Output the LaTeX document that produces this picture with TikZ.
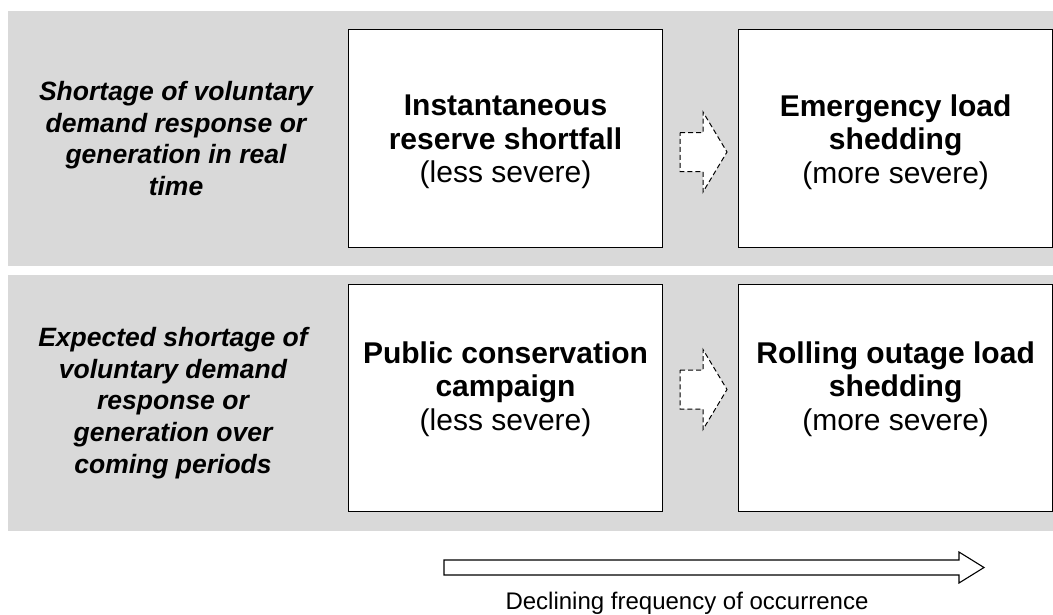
\documentclass[tikz,border=0pt]{standalone}
\usepackage{fontspec}
\setmainfont{Liberation Sans}
\usetikzlibrary{calc,positioning}
\definecolor{bandgray}{RGB}{217,217,217}

% block arrow: style, tail point, length, half shaft, half head, head length
\newcommand{\blockarrow}[6]{
  \draw[#1] #2 ++(0,-#4) -- ++(#3-#6,0) -- ++(0,#4-#5) -- ++(#6,#5)
    -- ++(-#6,#5) -- ++(0,#4-#5) -- ++(#6-#3,0) -- cycle;
}

\begin{document}
\begin{tikzpicture}[x=1pt,y=-1pt,
    band/.style={fill=bandgray},
    optbox/.style={draw=black,line width=1.1pt,fill=white,inner sep=0pt,
      minimum width=314pt},
    opttext/.style={align=center,font=\fontsize{30}{33.5}\selectfont},
    cause/.style={align=center,font=\fontsize{26.5}{31.8}\selectfont\bfseries\itshape},
    dasharrow/.style={draw=black,fill=white,dash pattern=on 5pt off 3pt,line width=1pt},
    bigarrow/.style={draw=black,fill=white,line width=1.1pt}]
  \useasboundingbox (0,0) rectangle (1053,614);

  % grey bands
  \fill[band] (8,11) rectangle (1053,266);
  \fill[band] (8,275) rectangle (1053,531);

  % real time row
  \node (c1) [cause] at (176,138.5) {Shortage of voluntary\\demand response or\\generation in real\\time};
  \node (b1) [optbox,minimum height=218pt,anchor=north west] at (348,29) {};
  \node (b2) [optbox,minimum height=218pt,right=75pt of b1] {};
  \node (t1) [opttext] at ($(b1)+(0,3.5)$)
    {\textbf{Instantaneous}\\\textbf{reserve shortfall}\\(less severe)};
  \node (t2) [opttext] at ($(b2)+(0,3.5)$)
    {\textbf{Emergency load}\\\textbf{shedding}\\(more severe)};

  % coming periods row
  \node (c2) [cause] at (173,403) {Expected shortage of\\voluntary demand\\response or\\generation over\\coming periods};
  \node (b3) [optbox,minimum height=227pt,anchor=north west] at (348,284) {};
  \node (b4) [optbox,minimum height=227pt,right=75pt of b3] {};
  \node (t3) [opttext] at ($(b3)+(0,-9)$)
    {\textbf{Public conservation}\\\textbf{campaign}\\(less severe)};
  \node (t4) [opttext] at ($(b4)+(0,-9)$)
    {\textbf{Rolling outage load}\\\textbf{shedding}\\(more severe)};

  % severity arrows
  \blockarrow{dasharrow}{(680,152)}{47}{19.5}{40}{24}
  \blockarrow{dasharrow}{(680,389.5)}{47}{19.5}{40}{24}

  % frequency arrow
  \blockarrow{bigarrow}{(444,567.5)}{540}{7.5}{15.5}{25}
  \node (freq) [anchor=base,font=\fontsize{24}{27}\selectfont] at (687,609)
    {Declining frequency of occurrence};
\end{tikzpicture}
\end{document}
